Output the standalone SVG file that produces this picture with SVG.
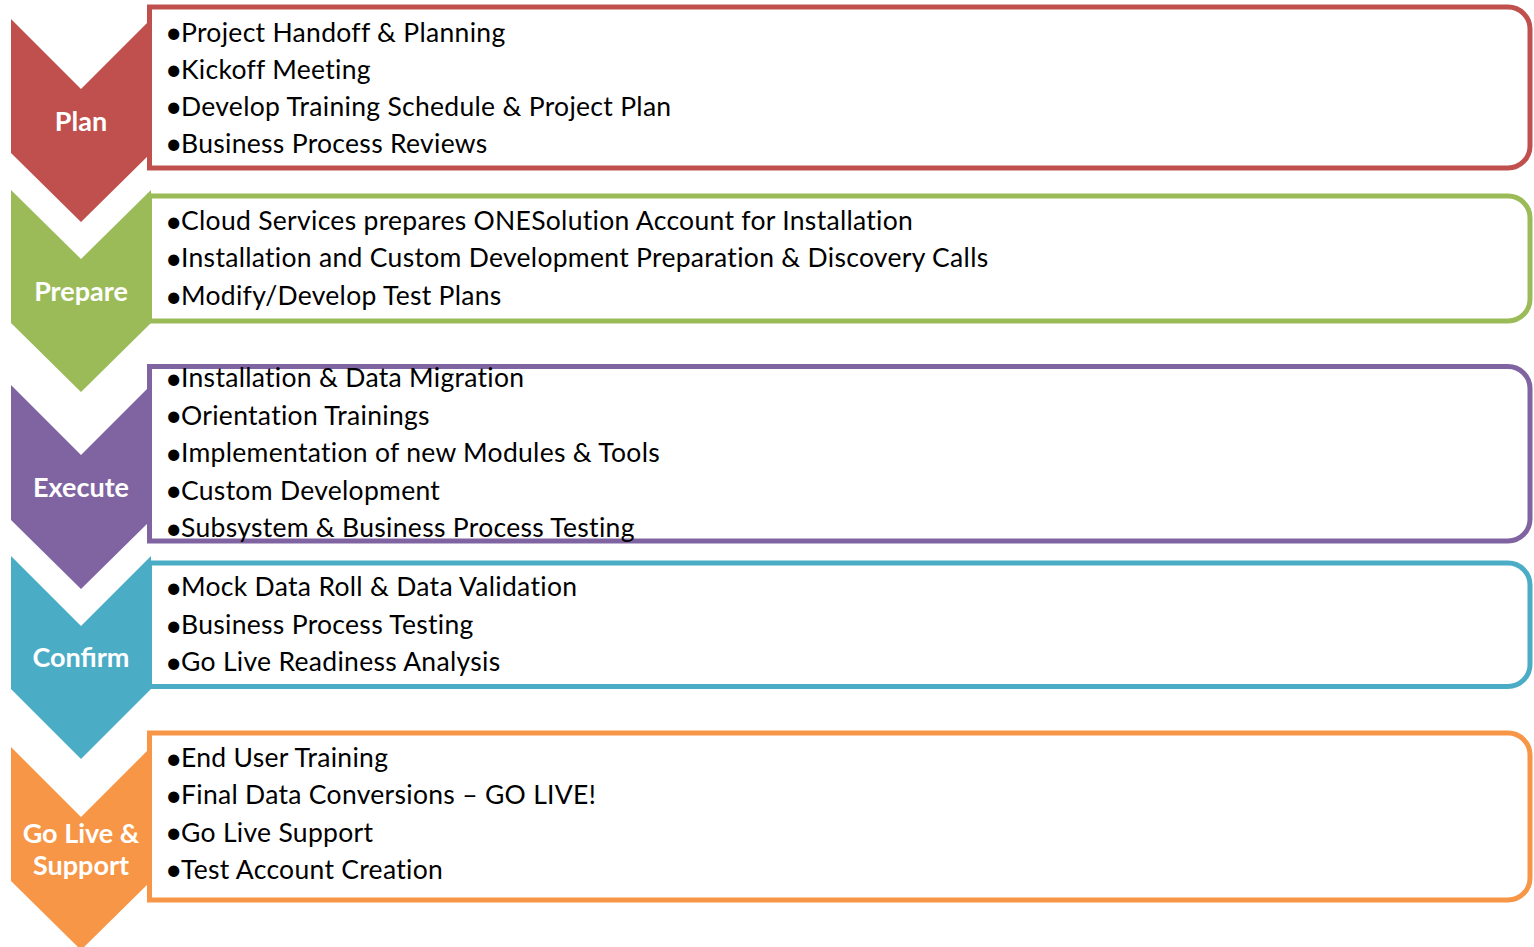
<svg xmlns="http://www.w3.org/2000/svg" width="1534" height="947" viewBox="0 0 1534 947">
<style>
.box{fill:#fff;stroke-width:5}
.lbl{font-family:Lato,"Liberation Sans",sans-serif;font-weight:bold;font-size:27px;fill:#fff;text-anchor:middle}
.txt{font-family:Lato,"Liberation Sans",sans-serif;font-size:26.5px;letter-spacing:0.3px;fill:#000}
.b{font-size:30px;letter-spacing:0}
</style>
<rect width="1534" height="947" fill="#fff"/>
<g id="connectors"></g>
<g id="plan">
<path class="box" stroke="#C0504D" d="M149.5 7H1508A22 22 0 0 1 1530 29V146A22 22 0 0 1 1508 168H149.5Z"/>
<path fill="#C0504D" d="M11 19L81 89L151 19V153L81 222L11 153Z"/>
<text class="lbl" x="81" y="131">Plan</text>
<text class="txt"><tspan class="b" x="165" y="43">•</tspan><tspan x="181" y="41.5">Project Handoff &amp; Planning</tspan><tspan class="b" x="165" y="80">•</tspan><tspan x="181" y="78.5">Kickoff Meeting</tspan><tspan class="b" x="165" y="117">•</tspan><tspan x="181" y="115.5">Develop Training Schedule &amp; Project Plan</tspan><tspan class="b" x="165" y="154">•</tspan><tspan x="181" y="152.5">Business Process Reviews</tspan></text>
</g>
<g id="prepare">
<path class="box" stroke="#9BBB59" d="M149.5 196H1508A22 22 0 0 1 1530 218V299A22 22 0 0 1 1508 321H149.5Z"/>
<path fill="#9BBB59" d="M11 190L81 259L151 190V323L81 392L11 323Z"/>
<text class="lbl" x="81" y="301">Prepare</text>
<text class="txt"><tspan class="b" x="165" y="231.5">•</tspan><tspan x="181" y="230">Cloud Services prepares ONESolution Account for Installation</tspan><tspan class="b" x="165" y="268.5">•</tspan><tspan x="181" y="267">Installation and Custom Development Preparation &amp; Discovery Calls</tspan><tspan class="b" x="165" y="306.5">•</tspan><tspan x="181" y="305">Modify/Develop Test Plans</tspan></text>
</g>
<g id="execute">
<path class="box" stroke="#8064A2" d="M149.5 366.5H1508A22 22 0 0 1 1530 388.5V519A22 22 0 0 1 1508 541H149.5Z"/>
<path fill="#8064A2" d="M11 385L81 455L151 385V520L81 589L11 520Z"/>
<text class="lbl" x="81" y="497">Execute</text>
<text class="txt"><tspan class="b" x="165" y="388.5">•</tspan><tspan x="181" y="387">Installation &amp; Data Migration</tspan><tspan class="b" x="165" y="426">•</tspan><tspan x="181" y="424.5">Orientation Trainings</tspan><tspan class="b" x="165" y="463.5">•</tspan><tspan x="181" y="462">Implementation of new Modules &amp; Tools</tspan><tspan class="b" x="165" y="501">•</tspan><tspan x="181" y="499.5">Custom Development</tspan><tspan class="b" x="165" y="538.5">•</tspan><tspan x="181" y="537">Subsystem &amp; Business Process Testing</tspan></text>
</g>
<g id="confirm">
<path class="box" stroke="#4BACC6" d="M149.5 563H1508A22 22 0 0 1 1530 585V664.5A22 22 0 0 1 1508 686.5H149.5Z"/>
<path fill="#4BACC6" d="M11 556L81 626L151 556V689L81 759L11 689Z"/>
<text class="lbl" x="81" y="667">Confirm</text>
<text class="txt"><tspan class="b" x="165" y="597.5">•</tspan><tspan x="181" y="596">Mock Data Roll &amp; Data Validation</tspan><tspan class="b" x="165" y="635.5">•</tspan><tspan x="181" y="634">Business Process Testing</tspan><tspan class="b" x="165" y="672.5">•</tspan><tspan x="181" y="671">Go Live Readiness Analysis</tspan></text>
</g>
<g id="golive">
<path class="box" stroke="#F79646" d="M149.5 733H1508A22 22 0 0 1 1530 755V878A22 22 0 0 1 1508 900H149.5Z"/>
<path fill="#F79646" d="M11 747L81 817L151 747V881L81 950L11 881Z"/>
<text class="lbl" x="81" y="843">Go Live &amp;</text>
<text class="lbl" x="81" y="875">Support</text>
<text class="txt"><tspan class="b" x="165" y="768.5">•</tspan><tspan x="181" y="767">End User Training</tspan><tspan class="b" x="165" y="805.5">•</tspan><tspan x="181" y="804">Final Data Conversions – GO LIVE!</tspan><tspan class="b" x="165" y="843">•</tspan><tspan x="181" y="841.5">Go Live Support</tspan><tspan class="b" x="165" y="880">•</tspan><tspan x="181" y="878.5">Test Account Creation</tspan></text>
</g>
</svg>
